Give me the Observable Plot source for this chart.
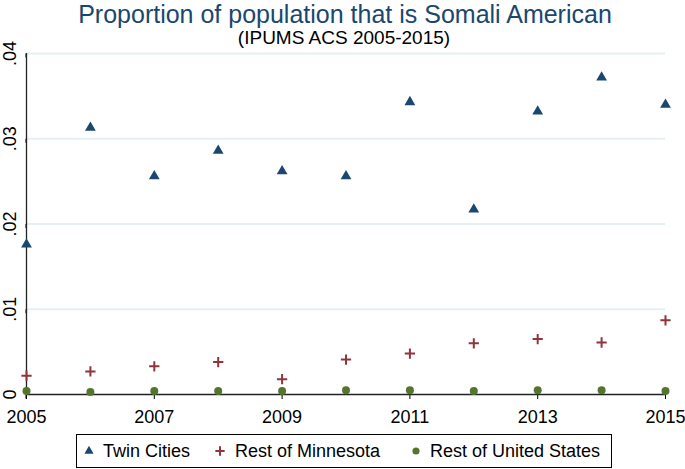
<!DOCTYPE html>
<html>
<head>
<meta charset="UTF-8">
<title>Somali American population</title>
<script src="https://cdn.jsdelivr.net/npm/d3@7"></script>
<script src="https://cdn.jsdelivr.net/npm/@observablehq/plot@0.6"></script>
<style>
  body { margin: 0; background: #fff; font-family: "Liberation Sans", Arial, sans-serif; }
  #wrap { position: relative; width: 685px; height: 469px; overflow: hidden; }
  #title { position: absolute; left: 0; top: 0; width: 690px; text-align: center; font-size: 25px; line-height: 28px; color: #1a476f; }
  #subtitle { position: absolute; left: 0; top: 27px; width: 688px; text-align: center; font-size: 19px; line-height: 22px; color: #000; }
  #chart { position: absolute; left: 0; top: 30px; }
  #legend { position: absolute; left: 76px; top: 434px; width: 536px; height: 34px; border: 1px solid #000; box-sizing: border-box; }
  .sym { position: absolute; top: 10px; }
  .lab { position: absolute; top: 0; line-height: 33px; font-size: 18px; white-space: nowrap; }
</style>
</head>
<body>
<div id="wrap">
  <div id="title">Proportion of population that is Somali American</div>
  <div id="subtitle">(IPUMS ACS 2005-2015)</div>
  <div id="chart"></div>
  <div id="legend"></div>
</div>
<script>
// values
const years = [2005, 2006, 2007, 2008, 2009, 2010, 2011, 2012, 2013, 2014, 2015];
const twinCities = [0.0176, 0.0313, 0.0256, 0.0286, 0.0262, 0.0256, 0.0343, 0.0217, 0.0332, 0.0372, 0.0340];
const restMinnesota = [0.0022, 0.0027, 0.0033, 0.0038, 0.0018, 0.0041, 0.0048, 0.0060, 0.0065, 0.0061, 0.0087];
const restUS = [0.0004, 0.0003, 0.0004, 0.0004, 0.0004, 0.0005, 0.0005, 0.0004, 0.0005, 0.0005, 0.0004];

const seriesNames = ["Twin Cities", "Rest of Minnesota", "Rest of United States"];
const xTicks = [2005, 2007, 2009, 2011, 2013, 2015];
const yTicks = [0, 0.01, 0.02, 0.03, 0.04];

const navy = "#1a476f", maroon = "#90353b", green = "#55752f";

const rows = (vals, name) => years.map((year, i) => ({year, value: vals[i], series: name}));
const tc = rows(twinCities, seriesNames[0]);
const mn = rows(restMinnesota, seriesNames[1]);
const us = rows(restUS, seriesNames[2]);

const fmtY = d => d === 0 ? "0" : d3.format(".2f")(d).replace(/^0/, "");

const plot = Plot.plot({
  width: 685,
  height: 394,
  marginTop: 23,
  marginBottom: 30,
  marginLeft: 26,
  marginRight: 20,
  style: { fontFamily: "Liberation Sans, Arial, sans-serif", fontSize: "18px", color: "#000", background: "transparent", overflow: "visible" },
  x: { domain: [2005, 2015] },
  y: { domain: [0, 0.04] },
  marks: [
    Plot.gridY(yTicks.slice(1), { stroke: "#e6eff1", strokeOpacity: 1, strokeWidth: 2 }),
    Plot.axisX({ ticks: xTicks, tickFormat: "d", tickSize: 5, tickPadding: 11, label: null, fontSize: 18 }),
    Plot.axisY({ ticks: yTicks, tickFormat: fmtY, tickSize: 4, tickPadding: 7, rotate: -90, textAnchor: "middle", lineAnchor: "bottom", label: null, fontSize: 18 }),
    Plot.ruleY([0], { stroke: "#222", strokeWidth: 1.3 }),
    Plot.ruleX([2005], { stroke: "#222", strokeWidth: 1.3 }),
    Plot.dot(us, { x: "year", y: "value", symbol: "circle", r: 4, fill: green }),
    Plot.dot(mn, { x: "year", y: "value", symbol: "plus", r: 3.4, stroke: maroon, strokeWidth: 2 }),
    Plot.dot(tc, { x: "year", y: "value", symbol: "triangle", r: 4, fill: navy })
  ]
});
document.querySelector("#chart").append(plot);

// legend
const legendItems = [
  { name: seriesNames[0], sym: d3.symbolTriangle, size: 36, fill: navy, stroke: "none", symX: 6, textX: 26 },
  { name: seriesNames[1], sym: d3.symbolPlus, size: 30, fill: "none", stroke: maroon, symX: 137, textX: 158 },
  { name: seriesNames[2], sym: d3.symbolCircle, size: 40, fill: green, stroke: "none", symX: 333, textX: 353 }
];
const legend = d3.select("#legend");
for (const it of legendItems) {
  const svg = legend.append("svg").attr("class", "sym").attr("width", 12).attr("height", 12)
    .style("left", it.symX + "px");
  svg.append("path")
    .attr("transform", "translate(6,6)")
    .attr("d", d3.symbol(it.sym, it.size)())
    .attr("fill", it.fill)
    .attr("stroke", it.stroke)
    .attr("stroke-width", 2);
  legend.append("div").attr("class", "lab").style("left", it.textX + "px").text(it.name);
}
</script>
</body>
</html>
